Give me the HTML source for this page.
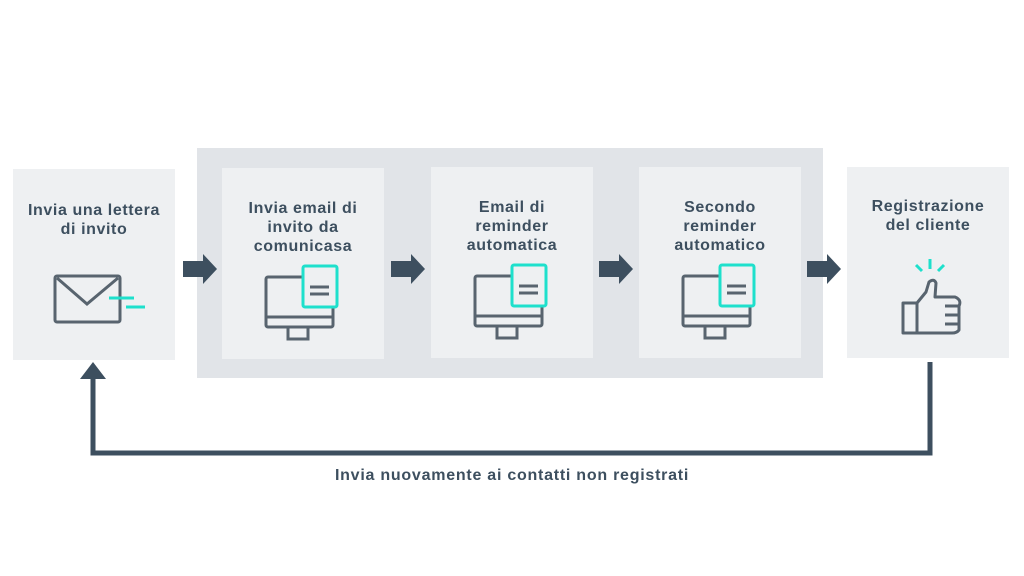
<!DOCTYPE html>
<html><head><style>
body{margin:0;width:1024px;height:576px;background:#fff;position:relative;overflow:hidden;font-family:"Liberation Sans",sans-serif}
.b{position:absolute;background:#eef0f2}
.t{position:absolute;width:100%;text-align:center;font-weight:bold;font-size:16px;letter-spacing:0.6px;line-height:19px;color:#3d4f5f}
svg{position:absolute;left:0;top:0}
</style></head><body>
<div style="position:absolute;left:197px;top:148px;width:626px;height:230px;background:#e1e4e8"></div>
<div class="b" style="left:13px;top:169px;width:162px;height:191px"><div class="t" style="top:32px">Invia una lettera<br>di invito</div></div>
<div class="b" style="left:222px;top:168px;width:162px;height:191px"><div class="t" style="top:31px">Invia email di<br>invito da<br>comunicasa</div></div>
<div class="b" style="left:431px;top:167px;width:162px;height:191px"><div class="t" style="top:31px">Email di<br>reminder<br>automatica</div></div>
<div class="b" style="left:639px;top:167px;width:162px;height:191px"><div class="t" style="top:31px">Secondo<br>reminder<br>automatico</div></div>
<div class="b" style="left:847px;top:167px;width:162px;height:191px"><div class="t" style="top:30px">Registrazione<br>del cliente</div></div>
<div style="position:absolute;left:0;top:467px;width:1024px;text-align:center;font-weight:bold;font-size:16px;letter-spacing:0.75px;color:#3d4f5f">Invia nuovamente ai contatti non registrati</div>
<svg width="1024" height="576">
<defs>
<g id="arr"><path d="M0,-8 H20 V-15 L34,0 L20,15 V8 H0Z" fill="#3d4f5f"/></g>
<g id="mon" fill="none" stroke="#58646f" stroke-width="3">
<rect x="0" y="0" width="67" height="50" rx="2"/><line x1="0" y1="40" x2="67" y2="40"/><rect x="22" y="50" width="20" height="12"/>
<rect x="37" y="-11" width="34" height="41" rx="2" fill="#eef0f2" stroke="#1ee0cc"/>
<line x1="44" y1="10" x2="63" y2="10" stroke="#58646f"/><line x1="44" y1="17" x2="63" y2="17" stroke="#58646f"/>
</g>
</defs>
<use href="#arr" x="183" y="269"/><use href="#arr" x="391" y="269"/><use href="#arr" x="599" y="269"/><use href="#arr" x="807" y="269"/>
<use href="#mon" x="266" y="277"/><use href="#mon" x="475" y="276"/><use href="#mon" x="683" y="276"/>
<g fill="none" stroke="#58646f" stroke-width="3"><rect x="55" y="276" width="65" height="46" rx="2"/><path d="M57,278 L87,304 L118,278"/></g>
<g stroke="#1ee0cc" stroke-width="3"><line x1="109" y1="298" x2="134" y2="298"/><line x1="126" y1="307" x2="145" y2="307"/></g>
<g fill="none" stroke="#58646f" stroke-width="3" stroke-linejoin="round"><rect x="903" y="303" width="14" height="30"/><path d="M917,303 L926,292 L929,282 Q934,278 936,283 L935,297 L955,297 Q962,300 959,306 L959,330 Q957,333 952,333 L917,333"/><path d="M945,306H960M945,315H960M945,324H958"/></g>
<g stroke="#1ee0cc" stroke-width="3"><line x1="930" y1="259" x2="930" y2="269"/><line x1="916" y1="265" x2="922" y2="271"/><line x1="944" y1="265" x2="938" y2="271"/></g>
<path d="M930,362 V453 H93 V376" fill="none" stroke="#3d4f5f" stroke-width="5"/>
<path d="M80,379 L93,362 L106,379Z" fill="#3d4f5f"/>
</svg>
</body></html>
